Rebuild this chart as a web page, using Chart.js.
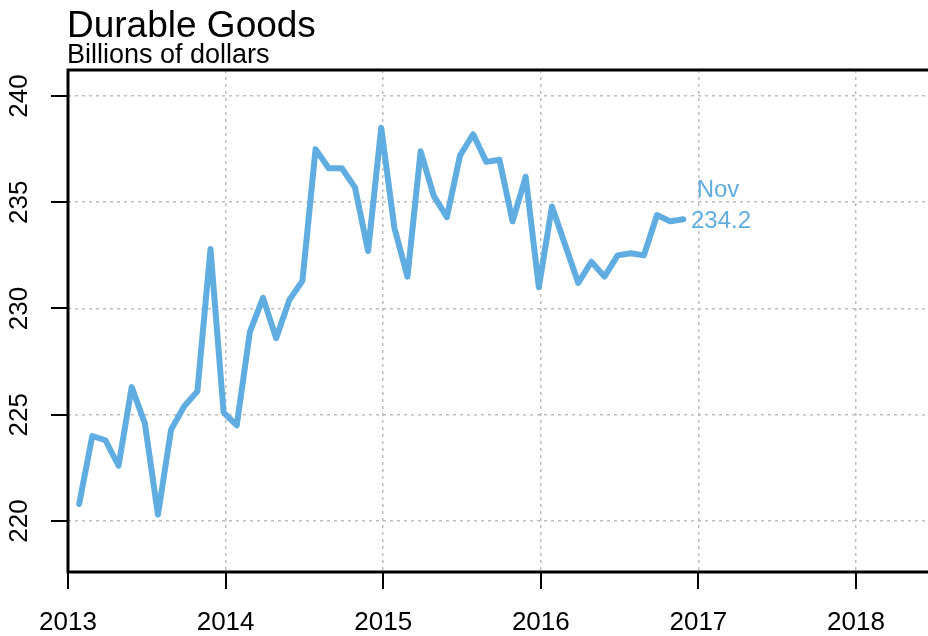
<!DOCTYPE html>
<html>
<head>
<meta charset="utf-8">
<script src="https://cdn.jsdelivr.net/npm/chart.js@4/dist/chart.umd.min.js"></script>
<style>
  body { margin: 0; background: #fff; }
  canvas { display: block; }
</style>
</head>
<body>
<canvas id="chart" width="928" height="636"></canvas>
<script>
const startYear = 2013;
const values = [
  220.8, 224.0, 223.8, 222.6, 226.3, 224.6, 220.3, 224.3, 225.4, 226.1, 232.8, 225.1,
  224.5, 228.9, 230.5, 228.6, 230.4, 231.3, 237.5, 236.6, 236.6, 235.7, 232.7, 238.5,
  233.8, 231.5, 237.4, 235.3, 234.3, 237.2, 238.2, 236.9, 237.0, 234.1, 236.2, 231.0,
  234.8, 233.0, 231.2, 232.2, 231.5, 232.5, 232.6, 232.5, 234.4, 234.1, 234.2
];
const xTicks = [2013, 2014, 2015, 2016, 2017, 2018];
const yTicks = [220, 225, 230, 235, 240];
const lastLabel = ['Nov', '234.2'];

const lineColor = '#60aee1';
const font = '"Liberation Sans", Arial, Helvetica, sans-serif';

// monthly points, dated late in each month (Jan 2013 = first)
const points = values.map((v, i) => ({ x: startYear + (i + 0.85) / 12, y: v }));

const frame = {
  id: 'frame',
  afterDraw(chart) {
    const { ctx, chartArea: a, scales: { x, y } } = chart;
    ctx.save();

    // box on left, top, bottom
    ctx.strokeStyle = '#000';
    ctx.lineWidth = 3;
    ctx.beginPath();
    ctx.moveTo(a.right + 2, a.top);
    ctx.lineTo(a.left, a.top);
    ctx.lineTo(a.left, a.bottom);
    ctx.lineTo(a.right + 2, a.bottom);
    ctx.stroke();

    // outward ticks
    ctx.lineWidth = 2;
    ctx.beginPath();
    xTicks.forEach(v => {
      const px = Math.round(x.getPixelForValue(v));
      ctx.moveTo(px, a.bottom);
      ctx.lineTo(px, a.bottom + 17);
    });
    yTicks.forEach(v => {
      const py = Math.round(y.getPixelForValue(v));
      ctx.moveTo(a.left, py);
      ctx.lineTo(a.left - 17, py);
    });
    ctx.stroke();

    // tick labels
    ctx.fillStyle = '#000';
    ctx.font = '26px ' + font;
    ctx.textAlign = 'center';
    ctx.textBaseline = 'alphabetic';
    xTicks.forEach(v => {
      ctx.fillText(String(v), x.getPixelForValue(v), 630);
    });
    yTicks.forEach(v => {
      ctx.save();
      ctx.translate(27, y.getPixelForValue(v));
      ctx.rotate(-Math.PI / 2);
      ctx.fillText(String(v), 0, 0);
      ctx.restore();
    });

    // titles
    ctx.textAlign = 'left';
    ctx.font = '37px ' + font;
    ctx.fillText('Durable Goods', 67, 37);
    ctx.font = '27px ' + font;
    ctx.fillText('Billions of dollars', 67, 63);

    // last value note
    ctx.fillStyle = lineColor;
    ctx.textAlign = 'center';
    ctx.font = '24px ' + font;
    ctx.fillText(lastLabel[0], 718, 197);
    ctx.fillText(lastLabel[1], 721, 228);

    ctx.restore();
  }
};

new Chart(document.getElementById('chart'), {
  type: 'line',
  data: {
    datasets: [{
      data: points,
      borderColor: lineColor,
      borderWidth: 6,
      pointRadius: 0,
      tension: 0,
      borderCapStyle: 'round',
      borderJoinStyle: 'round',
      fill: false
    }]
  },
  options: {
    responsive: false,
    animation: false,
    layout: { padding: { left: 68, top: 70, right: 0, bottom: 64 } },
    plugins: { legend: { display: false }, tooltip: { enabled: false } },
    scales: {
      x: {
        type: 'linear',
        min: 2013,
        max: 2013 + 860 / 157.6,
        afterBuildTicks: s => { s.ticks = xTicks.map(v => ({ value: v })); },
        afterFit: s => { s.height = 0; },
        ticks: { display: false },
        grid: { color: '#bdbdbd', lineWidth: 1.5, drawTicks: false },
        border: { display: false, dash: [3, 4] }
      },
      y: {
        min: 220 - 51 / 21.25,
        max: 240 + 26 / 21.25,
        afterBuildTicks: s => { s.ticks = yTicks.map(v => ({ value: v })); },
        afterFit: s => { s.width = 0; },
        ticks: { display: false },
        grid: { color: '#bdbdbd', lineWidth: 1.5, drawTicks: false },
        border: { display: false, dash: [3, 4] }
      }
    }
  },
  plugins: [frame]
});
</script>
</body>
</html>
